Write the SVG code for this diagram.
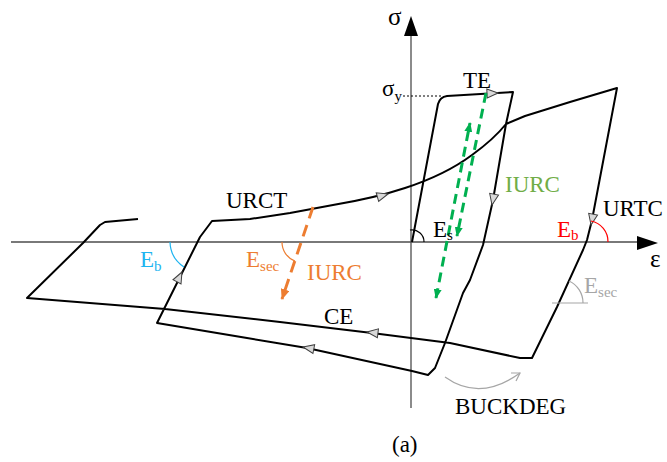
<svg xmlns="http://www.w3.org/2000/svg" width="667" height="462" viewBox="0 0 667 462">
<style>
text{font-family:"Liberation Serif","Times New Roman",serif;font-size:23px;fill:#000}
.curve{fill:none;stroke:#000;stroke-width:2;stroke-linejoin:round}
.axis{stroke:#4d4d4d;stroke-width:1.3;fill:none}
.green{fill:none;stroke:#00b050;stroke-width:3;stroke-dasharray:10 6}
.orange{fill:none;stroke:#ed7d31;stroke-width:3;stroke-dasharray:12 7}
.sub{font-size:15px}
</style>
<defs>
<marker id="mg" viewBox="0 0 10 8" refX="9" refY="4" markerWidth="10" markerHeight="8" markerUnits="userSpaceOnUse" orient="auto-start-reverse"><path d="M0,0 L10,4 L0,8 z" fill="#00b050"/></marker>
<marker id="mo" viewBox="0 0 10 8" refX="9" refY="4" markerWidth="11" markerHeight="9" markerUnits="userSpaceOnUse" orient="auto"><path d="M0,0 L10,4 L0,8 z" fill="#ed7d31"/></marker>
<path id="fa" d="M0,0 L-11,-4.5 L-11,4.5 z" fill="#d9d9d9" stroke="#404040" stroke-width="1"/>
</defs>

<g id="axes">
<line class="axis" x1="411" y1="408" x2="411" y2="34"/>
<polygon points="411,16 404,36 418,36" fill="#000"/>
<line class="axis" x1="11" y1="242" x2="640" y2="242"/>
<polygon points="658,243 637,236 637,250" fill="#000"/>
<text x="388" y="25" style="font-size:25px">σ</text>
<text x="650" y="267" style="font-size:25px">ε</text>
<line x1="403" y1="96" x2="441" y2="96" stroke="#000" stroke-width="1" stroke-dasharray="2 2"/>
<text x="382" y="96">σ<tspan class="sub" dy="5">y</tspan></text>
</g>

<g id="connectors">
<path class="curve" d="M412,242 L438,104 Q440,97 447,96 L513,92 L506,124 L493,200 L483,245 L470,280 L463,293 L445,343 L435,368 L428,375 L412,371 L307,348 L247,338 L157,323 L180,277 L200,237 L212,221 L250,219 L290,213 L333,205 Q375,198 405,188 Q445,175 472,155 Q494,139 506,124 L525,116 L570,102 L617,88 L592,220 L587,240 L583,250 L557,307 L532,358 L520,358 L450,343 L372,333 L280,322 L165,309 L27,298 L83,243 L100,225 L105,222 L138,219"/>
<use href="#fa" transform="translate(388,194) rotate(-16)"/>
<use href="#fa" transform="translate(498,93) rotate(-3)"/>
<use href="#fa" transform="translate(492,205) rotate(101)"/>
<use href="#fa" transform="translate(591,225) rotate(101)"/>
<use href="#fa" transform="translate(182,272) rotate(-63)"/>
<use href="#fa" transform="translate(303,347) rotate(191)"/>
<use href="#fa" transform="translate(367,332) rotate(187)"/>
<line class="green" x1="486" y1="93" x2="457" y2="236" marker-end="url(#mg)"/>
<line class="green" x1="436" y1="298" x2="470" y2="123" marker-start="url(#mg)" marker-end="url(#mg)"/>
<line class="orange" x1="313" y1="207" x2="282" y2="299" marker-end="url(#mo)"/>
<path d="M445,377 Q480,402 520,373" fill="none" stroke="#a6a6a6" stroke-width="1.2"/>
<polyline points="511,373 520,373 516,381" fill="none" stroke="#a6a6a6" stroke-width="1.2"/>
</g>

<g id="angles">
<path d="M424,242 A12,12 0 0 0 410,230" fill="none" stroke="#000" stroke-width="1.2"/>
<path d="M170,242 A31,31 0 0 0 184,267" fill="none" stroke="#1eb4f0" stroke-width="1.2"/>
<path d="M282,242 A20,20 0 0 0 295,261" fill="none" stroke="#ed7d31" stroke-width="1.2"/>
<path d="M591,221 A21,21 0 0 1 608,242" fill="none" stroke="#ff0000" stroke-width="1.2"/>
<line x1="552" y1="303" x2="588" y2="303" stroke="#a6a6a6" stroke-width="1.2"/>
<path d="M569,281 A24,24 0 0 1 583,303" fill="none" stroke="#a6a6a6" stroke-width="1.2"/>
</g>

<g id="labels">
<text x="463" y="88">TE</text>
<text x="226" y="208">URCT</text>
<text x="603" y="216">URTC</text>
<text x="505" y="192" style="fill:#70ad47">IURC</text>
<text x="307" y="280" style="fill:#ed7d31">IURC</text>
<text x="324" y="324">CE</text>
<text x="433" y="237">E<tspan class="sub" dy="3">s</tspan></text>
<text x="557" y="237" style="fill:#ff0000">E<tspan class="sub" dy="3" style="fill:#ff0000">b</tspan></text>
<text x="140" y="267" style="fill:#1eb4f0">E<tspan class="sub" dy="4" style="fill:#1eb4f0">b</tspan></text>
<text x="246" y="267" style="fill:#ed7d31">E<tspan class="sub" dy="4" style="fill:#ed7d31">sec</tspan></text>
<text x="584" y="293" style="fill:#a6a6a6">E<tspan class="sub" dy="4" style="fill:#a6a6a6">sec</tspan></text>
<text x="455" y="414">BUCKDEG</text>
<text x="392" y="452">(a)</text>
</g>
</svg>
